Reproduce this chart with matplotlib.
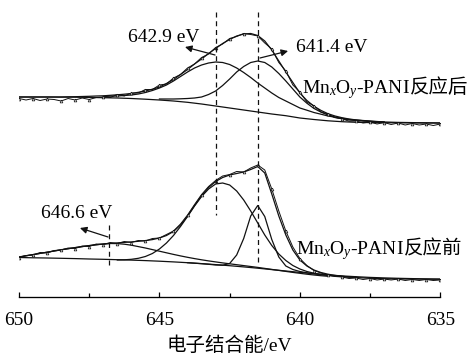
import numpy as np
import matplotlib
matplotlib.use('Agg')
import matplotlib.pyplot as plt
from matplotlib.ticker import MultipleLocator

# ---- data (binding energy in eV, intensity in a.u.) ----
be_q = np.arange(650, 634.99, -0.25)      # 0.25 eV grid, 650 -> 635
be_h = np.arange(650, 634.99, -0.5)       # 0.5 eV grid, 650 -> 635

# after reaction (upper spectrum)
after_raw = [198.5, 197, 198.5, 196.5, 198, 197.5, 196, 198.5, 197,
             199, 197.5, 199.5, 200, 199.5, 202.5, 201, 204,
             204, 207.5, 207.5, 212, 213, 219, 222.5, 229,
             233, 239.5, 243, 249.5, 253, 258.5, 260.5, 263.5,
             262.5, 261, 254, 248, 234.5, 226, 212, 205,
             195, 191.3, 185.1, 183, 179.3, 178.2, 175.8, 176,
             174, 175, 173, 174.5, 172.5, 174, 172, 173.5,
             172, 173, 171.5, 173]
after_fit = [200, 200, 200, 200, 200, 200, 200, 200.2, 200.3,
             200.5, 200.7, 201, 201.2, 201.7, 202.2, 202.8, 203.5,
             204.7, 206, 207.8, 210, 213.5, 217.5, 222.5, 227.5,
             233, 238, 243.5, 248.5, 253.5, 257.5, 261, 263,
             263.5, 261.5, 256, 247, 236, 225, 214.5, 204,
             196.5, 190.8, 186.6, 183.3, 181, 179.3, 178, 177.1,
             176.3, 175.7, 175.3, 175, 174.8, 174.6, 174.5, 174.4,
             174.3, 174.2, 174.1, 174]
after_bg = [200, 200, 200, 199.9, 199.8, 199.6, 199.3, 199, 198.5, 197.8,
            197, 196, 194.7, 193, 191, 189, 187, 185, 183, 181.3,
            179, 177.5, 176.2, 175.3, 174.7, 174.4, 174.3, 174.2, 174.1, 174,
            174]
be_after_a = np.arange(647, 636.99, -0.25)
after_a = [200.5, 200.8, 201, 201.5, 202, 203, 204.5, 206.5, 209,
           212, 216, 220.5, 225, 229, 232, 234, 235, 234.5, 232.5,
           229, 224.5, 219.5, 214, 209, 204, 199.5, 196, 192.5, 189,
           186.8, 184.5, 182.8, 181, 179.8, 178.7, 177.6, 177, 176.5, 176,
           175.5, 175]
be_after_b = np.arange(645, 636.99, -0.25)
after_b = [198, 198, 198, 198.2, 198.5, 199, 200, 202.5, 206, 211.5,
           218, 225, 230.5, 234.5, 236, 234.5, 230, 223.5, 216, 208,
           200, 193.8, 188.6, 184.9, 182, 179.8, 178.2, 177.1, 176.5, 176,
           175.5, 175.2, 175]

# before reaction (lower spectrum)
before_raw = [39.5, 41.5, 42, 44.5, 44, 46.5, 47, 49, 48.5,
              51, 50.5, 53, 52.5, 54.5, 53.5, 55.5, 54.5,
              56.5, 56, 58.5, 59, 62.5, 66, 73, 82,
              92.5, 102.5, 110.5, 116.5, 121, 122.5, 125.5, 125,
              129, 132, 127, 108, 86, 66, 50, 38.5,
              31.5, 26.5, 24, 22, 20.5, 20, 18.5, 19,
              17.5, 18.5, 17, 18, 17, 18, 16.5, 17.5,
              16.5, 17.5, 16.5, 17]
before_fit = [40, 41.2, 42.4, 43.6, 44.8, 46, 47.2, 48.3, 49.4,
              50.4, 51.4, 52.2, 53, 53.6, 54.1, 54.6, 55.1,
              55.7, 56.4, 57.4, 59, 61.5, 65.5, 72, 81,
              91.5, 101.5, 109.5, 115.5, 119.5, 122, 123.5, 125,
              127.5, 130.5, 124, 103, 81, 62, 47, 37,
              31, 27, 24.5, 22.8, 21.6, 20.7, 20, 19.5,
              19.1, 18.8, 18.5, 18.3, 18.2, 18.1, 18, 18,
              17.9, 17.9, 17.8, 17.8]
before_bg = [39.5, 39.2, 39, 38.7, 38.4, 38, 37.7, 37.3, 36.9, 36.4,
             35.8, 35.1, 34.3, 33.4, 32.4, 31.3, 30.1, 28.8, 27.4, 26,
             24.6, 23.3, 22.1, 21.1, 20.3, 19.6, 19.1, 18.7, 18.4, 18.1,
             17.9]
be_before_sat = np.arange(650, 638.99, -0.25)
before_sat = [40, 41.2, 42.4, 43.6, 44.8, 46, 47.2, 48.3, 49.4, 50.4,
              51.4, 52.3, 53, 53.5, 53.4, 52.8, 51.8, 50.4, 49, 47.4,
              45.8, 44.2, 42.6, 41.1, 39.7, 38.4, 37.2, 36.1, 35.1, 34.1,
              33.2, 32.3, 31.4, 30.5, 29.6, 28.6, 27.6, 26.6, 25.6, 24.6,
              23.7, 22.8, 22, 21.3, 20.7]
be_before_a = np.arange(646.5, 637.99, -0.25)
before_a = [37, 37.2, 37.7, 38.7, 40.5, 43.5, 48, 54, 61.5, 70.5,
            80.5, 91, 100.5, 108, 113, 114, 112, 106, 97, 86,
            74, 62, 51.5, 43, 36.5, 31.5, 28, 25.5, 23.8, 22.5,
            21.6, 21, 20.4, 20, 19.6]
be_before_b = np.arange(644, 637.99, -0.25)
before_b = [34.3, 33.8, 33.3, 32.7, 32, 31.8, 33.5, 42, 58.5, 81,
            91.5, 80.5, 57.5, 40, 31, 27.5, 25.5, 24.2, 23.2, 22.4,
            21.7, 21.1, 20.6, 20.1, 19.7]

peak_pos = [643.0, 641.5, 646.8]
peak_labels = ['642.9 eV', '641.4 eV', '646.6 eV']
xticks = [650, 645, 640, 635]

# ---- style ----
plt.rcParams['font.family'] = ['Liberation Serif', 'Noto Sans CJK SC']
plt.rcParams['mathtext.fontset'] = 'custom'
plt.rcParams['mathtext.rm'] = 'Liberation Serif'
plt.rcParams['mathtext.it'] = 'Liberation Serif:italic'
plt.rcParams['font.size'] = 14

fig = plt.figure(figsize=(4.68, 3.58), dpi=100)
ax = fig.add_axes([19 / 468, 61 / 358, 421.3 / 468, 297 / 358])
lw = 0.9
k = '#111111'

for be, y in [(be_h, after_bg), (be_after_a, after_a), (be_after_b, after_b),
              (be_q, after_fit), (be_h, before_bg), (be_before_sat, before_sat),
              (be_before_a, before_a), (be_before_b, before_b), (be_q, before_fit)]:
    ax.plot(be, y, color=k, lw=lw)
for y in [after_raw, before_raw]:
    ax.plot(be_q, y, color=k, lw=0.7, marker='^', ms=2.0, mfc='white',
            mew=0.5, markevery=2)

# dashed guides at peak positions
ax.plot([peak_pos[0]] * 2, [285, 82], color=k, lw=lw, ls=(0, (4, 3)))
ax.plot([peak_pos[1]] * 2, [285, 32], color=k, lw=lw, ls=(0, (4, 3)))
ax.plot([peak_pos[2]] * 2, [72, 32], color=k, lw=lw, ls=(0, (4, 3)))

# peak annotations
arrow = dict(arrowstyle='-|>', color=k, lw=0.9, mutation_scale=10,
             shrinkA=0, shrinkB=0)
ax.annotate('', xy=(644.09, 250), xytext=(643.02, 242), arrowprops=arrow)
ax.annotate('', xy=(640.42, 246), xytext=(641.42, 239), arrowprops=arrow)
ax.annotate('', xy=(647.83, 69), xytext=(646.83, 60), arrowprops=arrow)
ax.text(646.12, 259, peak_labels[0], ha='left', va='center')
ax.text(640.14, 250, peak_labels[1], ha='left', va='center')
ax.text(649.2, 84, peak_labels[2], ha='left', va='center')

# sample labels
for x0, y0, tail in [(639.93, 204, '反应后'), (640.14, 43, '反应前')]:
    t = ax.text(x0, y0, 'Mn$_x$O$_y$-PANI', ha='left', va='baseline')
    ax.annotate(tail, xy=(1, y0), xycoords=(t, 'data'), ha='left',
                va='baseline', family=['Noto Sans CJK SC'])

ax.set_xlim(650, 635)
ax.set_ylim(0, 297)
ax.set_xticks(xticks)
ax.xaxis.set_minor_locator(MultipleLocator(2.5))
ax.set_yticks([])
for s in ['top', 'left', 'right']:
    ax.spines[s].set_visible(False)
ax.spines['bottom'].set_linewidth(0.95)
ax.tick_params(axis='x', which='major', direction='in', length=3.8,
               width=0.9, pad=10.5)
ax.tick_params(axis='x', which='minor', direction='in', length=3.2,
               width=0.9)
ax.set_xlabel('电子结合能/eV', labelpad=6)

fig.savefig('out.png', dpi=100)
